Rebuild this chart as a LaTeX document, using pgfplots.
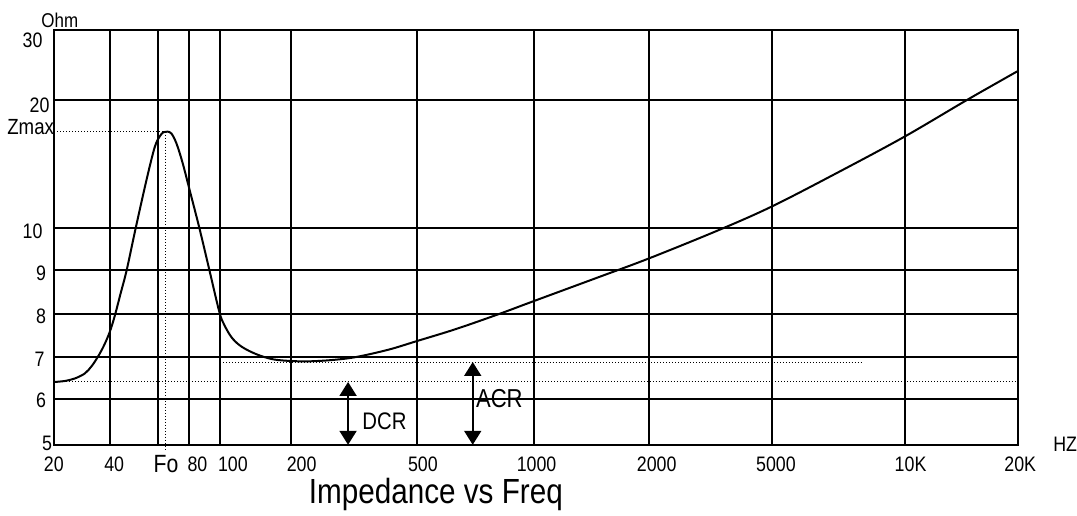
\documentclass[border=0pt]{standalone}
\usepackage{pgfplots}
\pgfplotsset{compat=1.18}
\usepackage{fontspec}
\setmainfont{Liberation Sans}[FakeStretch=0.85]
\usetikzlibrary{arrows.meta}
\begin{document}
\begin{tikzpicture}
\begin{axis}[
  x=0.5pt, y=0.5pt,
  xmin=0, xmax=966.5, ymin=0, ymax=416,
  axis line style={line width=1pt},
  grid=major,
  major grid style={black, line width=1pt},
  major tick length=0pt,
  xtick={0,55.5,103.5,135.5,166.5,237.5,363.5,480.5,596.5,719.5,852.5,966.5},
  ytick={0,46,88,131,175,217,346,416},
  xticklabels={}, yticklabels={},
  clip=false,
]
\path (axis cs:-54.5,-71) rectangle (axis cs:1022.5,446);
% dotted reference lines
\addplot[line width=0.5pt, dash pattern=on 0.5pt off 1pt] coordinates {(0,314) (111.5,314)};
\addplot[line width=0.5pt, dash pattern=on 0.5pt off 1pt] coordinates {(111.5,314) (111.5,-7)};
\addplot[line width=0.5pt, dash pattern=on 0.5pt off 1pt] coordinates {(0,63) (966.5,63)};
\addplot[line width=0.5pt, dash pattern=on 0.5pt off 1pt] coordinates {(166.5,83) (809.5,83)};
% impedance curve
\addplot[line width=1pt, smooth, tension=0.55] coordinates {
(0.5,63) (10.5,64) (20.5,66.5) (30.5,71.5) (37.5,79) (43.5,88) (49.5,99) (55.5,113)
(60.5,129) (66.5,152) (72.5,175) (81.5,217) (92.5,266) (100.5,298) (105.5,309)
(109.5,313.5) (113.5,314) (117.5,312) (122.5,302) (128.5,283) (135.5,256) (145.5,217)
(155.5,175) (165.5,133) (170.5,120) (177.5,108) (185.5,100) (195.5,94) (207.5,89)
(220.5,85.5) (237.5,84) (255.5,83.7) (278.5,85) (302.5,88) (335.5,95.5) (363.5,104)
(402.5,116) (445.5,131) (480.5,144) (545.5,168) (596.5,187) (665.5,215) (719.5,239)
(785.5,273) (852.5,309) (915.5,346) (966.5,375)};
% arrows
\draw[line width=1pt, {Triangle[width=8.5pt,length=7pt]}-{Triangle[width=8.5pt,length=7pt]}] (axis cs:294.5,63) -- (axis cs:294.5,0);
\draw[line width=1pt, {Triangle[width=8.5pt,length=7pt]}-{Triangle[width=8.5pt,length=7pt]}] (axis cs:419.5,83) -- (axis cs:419.5,0);
% x tick labels
\begin{scope}[every node/.style={inner sep=0pt, font=\fontsize{10.5}{12}\selectfont}]
\node at (axis cs:-0.5,-19.5) {20};
\node at (axis cs:60,-19.5) {40};
\node at (axis cs:143.5,-19.5) {80};
\node at (axis cs:179,-19.5) {100};
\node at (axis cs:248,-19.5) {200};
\node at (axis cs:369.5,-19.5) {500};
\node at (axis cs:483.5,-19.5) {1000};
\node at (axis cs:604,-19.5) {2000};
\node at (axis cs:723.5,-19.5) {5000};
\node at (axis cs:858.5,-19.5) {10K};
\node at (axis cs:968.5,-19.5) {20K};
\node[anchor=east] at (axis cs:-11.5,406) {30};
\node[anchor=east] at (axis cs:-4.5,340) {20};
\node[anchor=east] at (axis cs:-11.5,214) {10};
\node[anchor=east] at (axis cs:-8,172) {9};
\node[anchor=east] at (axis cs:-8,129) {8};
\node[anchor=east] at (axis cs:-9.5,86) {7};
\node[anchor=east] at (axis cs:-8,44.5) {6};
\node[anchor=east] at (axis cs:-2,1) {5};
\node at (axis cs:1013.5,1) {HZ};
\end{scope}
% labels
\node[inner sep=0pt, font=\fontsize{12}{14}\selectfont, anchor=west] at (axis cs:308.5,24) {DCR};
\node[inner sep=0pt, font=\fontsize{13}{15}\selectfont, anchor=west] at (axis cs:422.5,46) {ACR};
\node[inner sep=0pt, font=\fontsize{10}{12}\selectfont] at (axis cs:5.5,426) {Ohm};
\node[inner sep=0pt, font=\fontsize{11}{13}\selectfont, anchor=east] at (axis cs:0,319) {Zmax};
\node[inner sep=0pt, font=\fontsize{12.5}{14}\selectfont] at (axis cs:112,-19) {Fo};
\node[inner sep=0pt, font=\fontsize{17.5}{20}\selectfont] at (axis cs:382.5,-50) {Impedance vs Freq};
\end{axis}
\end{tikzpicture}
\end{document}
